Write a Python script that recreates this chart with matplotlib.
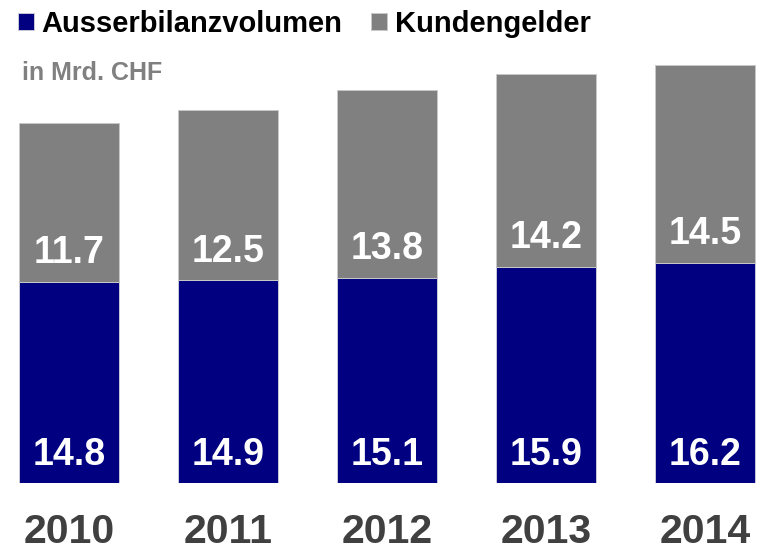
import matplotlib
matplotlib.use("Agg")
import matplotlib.pyplot as plt
import numpy as np

years = ["2010", "2011", "2012", "2013", "2014"]
ausserbilanz = [14.8, 14.9, 15.1, 15.9, 16.2]
kundengelder = [11.7, 12.5, 13.8, 14.2, 14.5]
series_names = ["Ausserbilanzvolumen", "Kundengelder"]
unit_label = "in Mrd. CHF"

plt.rcParams['font.family'] = ['Liberation Sans', 'DejaVu Sans']
plt.rcParams['font.weight'] = 'bold'

W, H = 767, 550
fig = plt.figure(figsize=(W / 100, H / 100), dpi=100)
base_px = 483  # baseline from top
ax = fig.add_axes([0, (H - base_px) / H, 1, base_px / H])

px_per_unit = 13.6
spacing_px = 159
first_center = 69
ax.set_xlim(-first_center / spacing_px, (W - first_center) / spacing_px)
ax.set_ylim(0, base_px / px_per_unit)

x = np.arange(len(years))
width = 100 / spacing_px
blue = "#000080"
gray = "#808080"
b1 = ax.bar(x, ausserbilanz, width, color=blue, edgecolor="#c8c8d8", linewidth=0.7,
            label=series_names[0])
b2 = ax.bar(x, kundengelder, width, bottom=ausserbilanz, color=gray, edgecolor="#c8c8c8",
            linewidth=0.7, label=series_names[1])

for xi, a, k in zip(x, ausserbilanz, kundengelder):
    ax.annotate(f"{a:.1f}", (xi, 0), xytext=(0, 20), textcoords="offset points",
                ha="center", va="center", color="white", fontsize=27, fontweight="bold")
    ax.annotate(f"{k:.1f}", (xi, a), xytext=(0, 20.5), textcoords="offset points",
                ha="center", va="center", color="white", fontsize=27, fontweight="bold")

ax.set_xticks(x)
ax.set_xticklabels(years, fontsize=29.5, fontweight="bold", color="#404040")
ax.tick_params(axis="x", length=0, pad=21.5)
ax.set_yticks([])
for s in ax.spines.values():
    s.set_visible(False)

leg = ax.legend(handles=[b1, b2], loc="upper left", bbox_to_anchor=(18 / W, 1 - 10 / H),
                bbox_transform=fig.transFigure, ncol=2, frameon=False, fontsize=21,
                handlelength=0.55, handleheight=0.55, handletextpad=0.25,
                columnspacing=1.0, borderpad=0, borderaxespad=0)
for t in leg.get_texts():
    t.set_fontweight("bold")
    t.set_color("black")

fig.text(22 / W, 1 - 73.5 / H, unit_label, fontsize=18, fontweight="bold", color=gray,
         ha="left", va="center")

fig.savefig("out.png", dpi=100)
